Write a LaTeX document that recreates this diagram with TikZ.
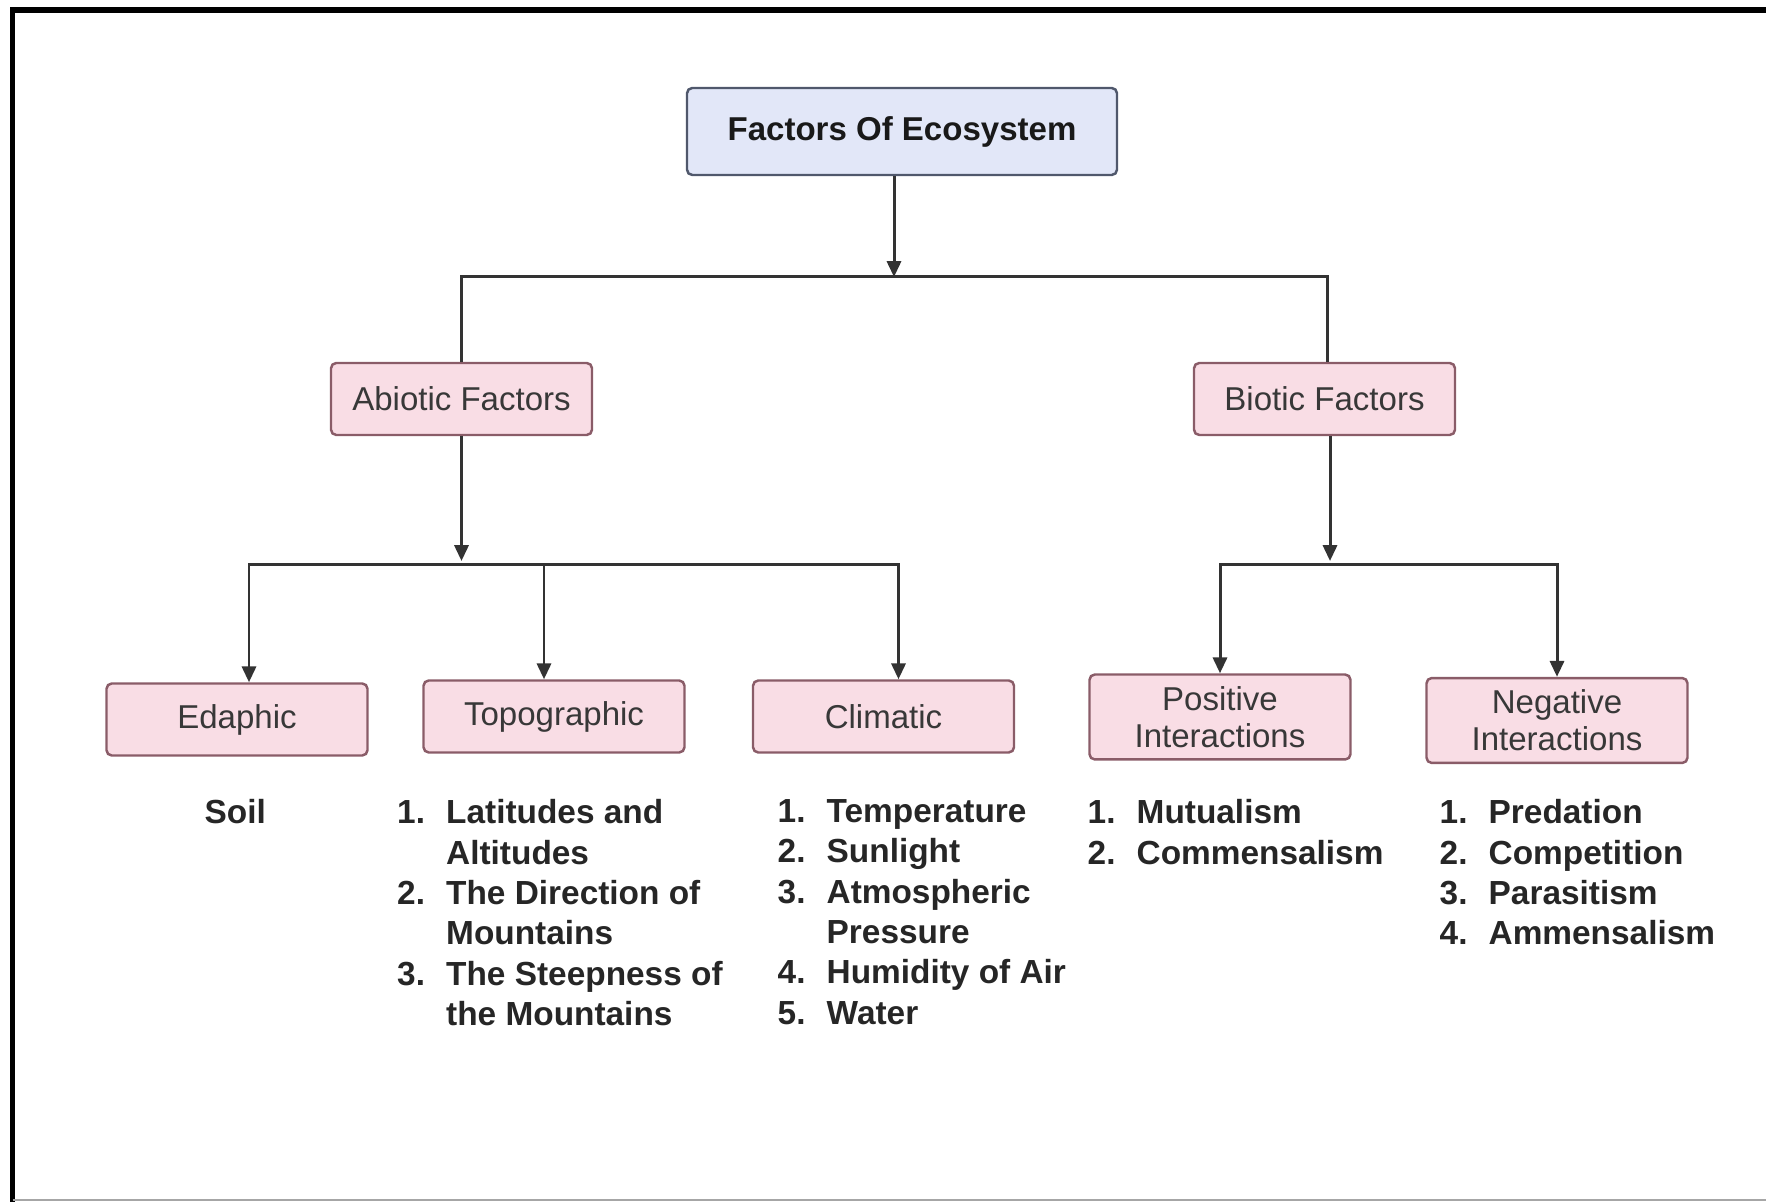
\documentclass[tikz,border=0pt]{standalone}
\usepackage{fontspec}
\setmainfont{Liberation Sans}
\usetikzlibrary{arrows.meta,calc}

\definecolor{pinkfill}{HTML}{F9DDE5}
\definecolor{pinkline}{HTML}{8A5C68}
\definecolor{bluefill}{HTML}{E2E7F8}
\definecolor{blueline}{HTML}{50586C}
\definecolor{linegray}{HTML}{333333}

\newcommand{\itemno}[2]{\makebox[0.49cm][l]{#1}#2}

\begin{document}
\begin{tikzpicture}[
    factor/.style={draw=pinkline,fill=pinkfill,line width=0.7pt,rounded corners=1.5pt,
        minimum width=2.61cm,minimum height=0.72cm,align=center,text=black!78,
        font=\fontsize{9.4}{10.6}\selectfont},
    topbox/.style={draw=blueline,fill=bluefill,line width=0.7pt,rounded corners=1.5pt,
        minimum width=4.30cm,minimum height=0.87cm,text=black!90,
        font=\bfseries\fontsize{9.4}{11}\selectfont},
    list/.style={anchor=north west,inner sep=0pt,align=left,text=black!85,
        font=\bfseries\fontsize{9.5}{11.47}\selectfont},
    link/.style={draw=linegray,line width=0.85pt},
    arr/.style={link,-{Triangle[length=4.5pt,width=4pt]}}
]
    \useasboundingbox (0,0) rectangle (17.66,-12.02);
    % The frame
    \draw [line width=0.06cm] (0.125,-12.02) -- (0.125,-0.10) -- (17.66,-0.10);
    \draw [gray!70,line width=0.02cm] (0.125,-12.00) -- (17.66,-12.00);
    % The boxes
    \node[topbox] (eco) at (9.02,-1.315) {Factors Of Ecosystem};
    \node[factor] (abio) at (4.615,-3.99) {Abiotic Factors};
    \node[factor] (bio) at (13.245,-3.99) {Biotic Factors};
    \node[factor] (eda) at (2.37,-7.195) {Edaphic};
    \node[factor] (topo) at (5.54,-7.165) {Topographic};
    \node[factor] (clim) at (8.835,-7.165) {Climatic};
    \node[factor,minimum height=0.82cm] (pos) at (12.20,-7.17) {Positive\\Interactions};
    \node[factor,minimum height=0.83cm] (neg) at (15.57,-7.205) {Negative\\Interactions};
    % First split
    \coordinate (split top) at (8.94,-2.77);
    \draw [arr] (split top |- eco.south) -- (split top);
    \draw [link] (abio.north) |- (split top);
    \draw [link] ($(bio.north)+(0.025,0)$) |- (split top);
    % Abiotic split
    \coordinate (split abio) at (4.615,-5.65);
    \draw [arr] (abio.south) -- ($(split abio)+(0,0.04)$);
    \draw [arr] (split abio) -| ($(eda.north)+(0.12,0)$);
    \draw [arr] (split abio) -| ($(topo.north)+(-0.10,0)$);
    \draw [arr] (split abio) -| ($(clim.north)+(0.15,0)$);
    % Biotic split
    \coordinate (split bio) at (13.30,-5.65);
    \draw [arr] (split bio |- bio.south) -- ($(split bio)+(0,0.04)$);
    \draw [arr] (split bio) -| (pos.north);
    \draw [arr] (split bio) -| (neg.north);
    % The lists
    \node[list] (soil) at (2.04,-7.99) {Soil};
    \node[list] (topo list) at (3.965,-7.99)
        {\itemno{1.}{Latitudes and}\\\itemno{}{Altitudes}\\
         \itemno{2.}{The Direction of}\\\itemno{}{Mountains}\\
         \itemno{3.}{The Steepness of}\\\itemno{}{the Mountains}};
    \node[list] (clim list) at (7.77,-7.99)
        {\itemno{1.}{Temperature}\\\itemno{2.}{Sunlight}\\
         \itemno{3.}{Atmospheric}\\\itemno{}{Pressure}\\
         \itemno{4.}{Humidity of Air}\\\itemno{5.}{Water}};
    \node[list] (pos list) at (10.87,-7.99)
        {\itemno{1.}{Mutualism}\\\itemno{2.}{Commensalism}};
    \node[list] (neg list) at (14.39,-7.99)
        {\itemno{1.}{Predation}\\\itemno{2.}{Competition}\\
         \itemno{3.}{Parasitism}\\\itemno{4.}{Ammensalism}};
\end{tikzpicture}
\end{document}
